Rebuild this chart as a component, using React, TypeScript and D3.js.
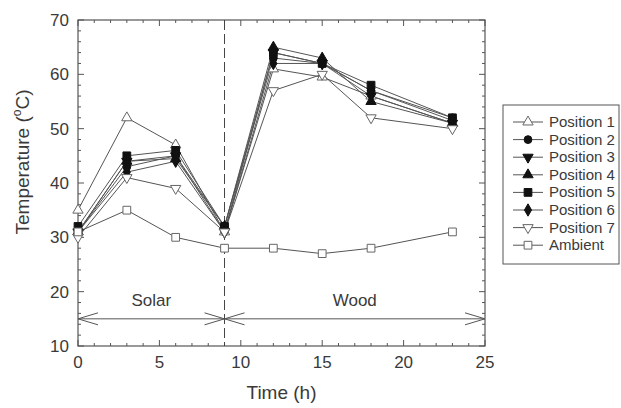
import React from "react";
import * as d3 from "d3";

const times = [0, 3, 6, 9, 12, 15, 18, 23];
const pos1 = [35, 52, 47, 31, 61, 59.5, 56, 51];
const pos2 = [31, 43, 45, 32, 63, 62, 57, 52];
const pos3 = [31, 44, 45, 31, 64, 62, 56, 51];
const pos4 = [31, 44, 44.5, 32, 65, 63, 55, 51];
const pos5 = [32, 45, 46, 32, 64, 62, 58, 52];
const pos6 = [31, 42, 44, 31, 62, 62, 57, 51.5];
const pos7 = [30, 41, 39, 31, 57, 60, 52, 50];
const ambient = [31, 35, 30, 28, 28, 27, 28, 31];

const seriesNames = ["Position 1", "Position 2", "Position 3", "Position 4", "Position 5", "Position 6", "Position 7", "Ambient"];
const seriesValues = [pos1, pos2, pos3, pos4, pos5, pos6, pos7, ambient];
const seriesMarkers = ["triUpOpen", "circle", "triDown", "triUp", "square", "diamond", "triDownOpen", "squareOpen"];

const xTicks = [0, 5, 10, 15, 20, 25];
const yTicks = [10, 20, 30, 40, 50, 60, 70];
const phaseBoundary = 9;
const phaseY = 15;
const phases = [
  { label: "Solar", from: 0, to: 9 },
  { label: "Wood", from: 9, to: 25 },
];

const W = 621, H = 408;
const L = 78, R = 485, T = 20, B = 346;
const FONT = "Liberation Sans, Arial, sans-serif";
const TEXT = "#3a3a3a";
const LINE = "#555";

const x = d3.scaleLinear().domain([0, 25]).range([L, R]);
const y = d3.scaleLinear().domain([10, 70]).range([B, T]);

function Marker({ kind, cx, cy }: { kind: string; cx: number; cy: number }) {
  const open = kind.endsWith("Open");
  const fill = open ? "#fff" : "#111";
  const stroke = open ? "#666" : "#111";
  let type: any = d3.symbolCircle;
  let size = 48;
  let rot = 0;
  if (kind.startsWith("triUp")) { type = d3.symbolTriangle; size = 46; }
  else if (kind.startsWith("triDown")) { type = d3.symbolTriangle; size = 46; rot = 180; }
  else if (kind.startsWith("square")) { type = d3.symbolSquare; size = 60; }
  else if (kind === "diamond") { type = d3.symbolDiamond; size = 44; }
  const d = d3.symbol().type(type).size(size)() as string;
  return (
    <path d={d} transform={`translate(${cx},${cy}) rotate(${rot})`} fill={fill} stroke={stroke} strokeWidth={1} />
  );
}

export default function App() {
  const line = d3.line<number>().x((_, i) => x(times[i])).y((v) => y(v));
  const xMinor = d3.range(0, 26, 1);
  const yMinor = d3.range(10, 71, 2);

  const arrow = (x0: number, x1: number, yy: number) => {
    const a = 20, b = 6;
    return (
      <g stroke={LINE} strokeWidth={1} fill="none">
        <line x1={x0} x2={x1} y1={yy} y2={yy} />
        <polyline points={`${x0 + a},${yy - b} ${x0},${yy} ${x0 + a},${yy + b}`} />
        <polyline points={`${x1 - a},${yy - b} ${x1},${yy} ${x1 - a},${yy + b}`} />
      </g>
    );
  };

  const legX = 503, legY = 105, legW = 116, legH = 159, rowH = 17.6;

  return (
    <svg width={W} height={H} style={{ position: "absolute", left: 0, top: 0, background: "#fff" }} fontFamily={FONT}>
      {/* ticks */}
      <g stroke={LINE} strokeWidth={1}>
        {xMinor.map((t) => {
          const len = t % 5 === 0 ? 6 : 3;
          return (
            <g key={"x" + t}>
              <line x1={x(t)} x2={x(t)} y1={B} y2={B - len} />
              <line x1={x(t)} x2={x(t)} y1={T} y2={T + len} />
            </g>
          );
        })}
        {yMinor.map((t) => {
          const len = t % 10 === 0 ? 6 : 3;
          return (
            <g key={"y" + t}>
              <line x1={L} x2={L + len} y1={y(t)} y2={y(t)} />
              <line x1={R} x2={R - len} y1={y(t)} y2={y(t)} />
            </g>
          );
        })}
      </g>
      <rect x={L} y={T} width={R - L} height={B - T} fill="none" stroke={LINE} strokeWidth={1.2} />
      {/* tick labels */}
      {xTicks.map((t) => (
        <text key={"xl" + t} x={x(t)} y={B + 22} textAnchor="middle" fontSize={17} fill={TEXT}>{t}</text>
      ))}
      {yTicks.map((t) => (
        <text key={"yl" + t} x={L - 9} y={y(t) + 6} textAnchor="end" fontSize={17} fill={TEXT}>{t}</text>
      ))}
      {/* axis titles */}
      <text x={(L + R) / 2} y={399} textAnchor="middle" fontSize={19} fill={TEXT}>Time (h)</text>
      <text transform={`translate(29,162) rotate(-90)`} textAnchor="middle" fontSize={19} fill={TEXT}>
        Temperature (<tspan fontSize={12} dy={-8}>o</tspan><tspan dy={8}>C)</tspan>
      </text>
      {/* phase boundary */}
      <line x1={x(phaseBoundary)} x2={x(phaseBoundary)} y1={T} y2={B} stroke="#444" strokeWidth={1} strokeDasharray="10,4" />
      {phases.map((p) => (
        <g key={p.label}>
          {arrow(x(p.from), x(p.to), y(phaseY))}
          <text x={(x(p.from) + x(p.to)) / 2} y={y(phaseY) - 13} textAnchor="middle" fontSize={17} fill={TEXT}>{p.label}</text>
        </g>
      ))}
      {/* series */}
      {seriesValues.map((vals, si) => (
        <path key={"l" + si} d={line(vals) as string} fill="none" stroke={LINE} strokeWidth={1} />
      ))}
      {seriesValues.map((vals, si) => (
        <g key={"m" + si}>
          {vals.map((v, i) => (
            <Marker key={i} kind={seriesMarkers[si]} cx={x(times[i])} cy={y(v)} />
          ))}
        </g>
      ))}
      {/* legend */}
      <rect x={legX} y={legY} width={legW} height={legH} fill="#fff" stroke={LINE} strokeWidth={1} />
      {seriesNames.map((n, i) => {
        const cy = legY + 17 + i * rowH;
        return (
          <g key={n}>
            <line x1={513} x2={543} y1={cy} y2={cy} stroke={LINE} strokeWidth={1} />
            <Marker kind={seriesMarkers[i]} cx={528} cy={cy} />
            <text x={549} y={cy + 5} fontSize={15} fill={TEXT}>{n}</text>
          </g>
        );
      })}
    </svg>
  );
}
